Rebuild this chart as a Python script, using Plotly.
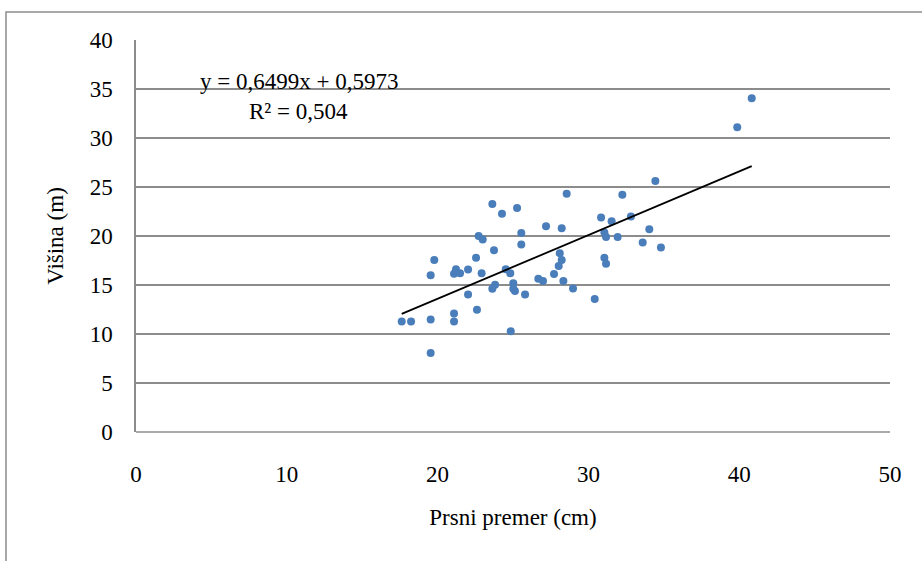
import plotly.graph_objects as go

# Data
prsni_premer = [17.62, 18.24, 19.54, 19.54, 19.54, 19.78, 21.09, 21.09, 21.09, 21.22,
                21.49, 22.02, 22.02, 22.55, 22.61, 22.72, 22.99, 22.92, 23.63, 23.74,
                23.81, 23.63, 24.27, 24.52, 24.82, 24.85, 25.02, 25.02, 25.13, 25.27,
                25.55, 25.55, 25.80, 26.68, 26.99, 27.19, 28.23, 28.56, 28.10, 28.23,
                28.03, 27.72, 28.34, 28.98, 30.42, 30.84, 31.06, 31.17, 31.54, 31.06,
                31.17, 31.94, 32.25, 32.82, 33.60, 34.04, 34.44, 34.81, 39.87, 40.83]
visina = [11.27, 11.27, 8.05, 11.48, 16.00, 17.56, 12.09, 11.27, 16.14, 16.61,
          16.21, 16.58, 14.03, 17.77, 12.47, 20.01, 19.64, 16.21, 23.27, 18.55,
          15.02, 14.61, 22.28, 16.61, 16.21, 10.29, 15.19, 14.61, 14.40, 22.86,
          20.31, 19.12, 14.03, 15.63, 15.42, 21.00, 20.79, 24.32, 18.25, 17.56,
          16.95, 16.11, 15.42, 14.64, 13.56, 21.88, 17.77, 17.16, 21.51, 20.35,
          19.91, 19.91, 24.22, 21.98, 19.33, 20.69, 25.62, 18.82, 31.09, 34.05]

slope = 0.6499
intercept = 0.5973
eq_text = "y = 0,6499x + 0,5973"
r2_text = "R² = 0,504"
x_ticks = [0, 10, 20, 30, 40, 50]
y_ticks = [0, 5, 10, 15, 20, 25, 30, 35, 40]

x_min, x_max = min(prsni_premer), max(prsni_premer)
trend_x = [x_min, x_max]
trend_y = [slope * v + intercept for v in trend_x]

FONT = "Liberation Serif, Times New Roman, serif"
FS = 23

fig = go.Figure()
fig.add_trace(go.Scatter(
    x=prsni_premer, y=visina, mode="markers",
    marker=dict(color="#4a7ebb", size=8, line=dict(width=0)),
    showlegend=False, cliponaxis=False))
fig.add_trace(go.Scatter(
    x=trend_x, y=trend_y, mode="lines",
    line=dict(color="black", width=1.8),
    showlegend=False))

W, H = 922, 561
L, R, T, B = 136, 32, 40, 129
pw, ph = W - L - R, H - T - B

def px(p):
    return (p - L) / pw

def py(q):
    return (H - B - q) / ph

fig.update_layout(
    width=W, height=H,
    margin=dict(l=L, r=R, t=T, b=B),
    paper_bgcolor="white", plot_bgcolor="white",
    font=dict(family=FONT, size=FS, color="black"),
    xaxis=dict(range=[0, 50], tickvals=x_ticks, showgrid=False, zeroline=False,
               showline=False, ticks="", ticklabelstandoff=26,
               title=dict(text="Prsni premer (cm)", font=dict(size=FS), standoff=22)),
    yaxis=dict(range=[0, 40], tickvals=y_ticks, showgrid=True, gridcolor="#8c8c8c",
               gridwidth=1.5, zeroline=False, showline=True, linecolor="#8c8c8c",
               linewidth=1.5, ticks="", ticklabelstandoff=17,
               title=dict(text="Višina (m)", font=dict(size=FS), standoff=20)),
    annotations=[
        dict(x=px(299), y=py(81), xref="paper", yref="paper", text=eq_text,
             xanchor="center", yanchor="middle",
             showarrow=False, font=dict(size=FS, family=FONT)),
        dict(x=px(298), y=py(111), xref="paper", yref="paper", text=r2_text,
             xanchor="center", yanchor="middle",
             showarrow=False, font=dict(size=FS, family=FONT)),
    ],
    shapes=[
        dict(type="rect", xref="paper", yref="paper",
             x0=px(6), x1=px(930), y0=py(570), y1=py(12),
             line=dict(color="#8c8c8c", width=1.5), layer="below"),
        dict(type="line", xref="paper", yref="paper", x0=0, x1=1, y0=0, y1=0,
             line=dict(color="#8c8c8c", width=1.5), layer="below"),
    ],
)

fig.write_html("out.html")
